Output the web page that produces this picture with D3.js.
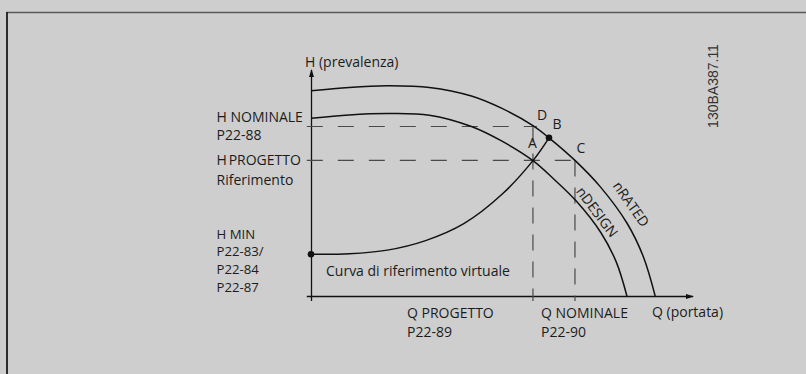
<!DOCTYPE html>
<html>
<head>
<meta charset="utf-8">
<script src="https://cdn.jsdelivr.net/npm/d3@7"></script>
<style>
  body { margin: 0; background: #cecece; }
  svg { display: block; }
  text { font-family: "Open Sans", sans-serif; font-size: 14px; fill: #1c1c1c; }
</style>
</head>
<body>
<div id="chart"></div>
<script>
// curve readings (Q = portata, H = prevalenza, both 0..100 of the axes)
const ratedQ = [0, 10, 20, 31, 42, 50, 58.1, 62.3, 69.1, 75.7, 82.7, 87, 90.1];
const ratedH = [90.8, 92.3, 93, 92.3, 88.5, 83, 75.4, 70, 60, 48.4, 32.3, 17.4, 0];

const designQ = [0, 10, 20, 31, 42, 50, 58.1, 63.4, 69.5, 75.9, 79.9, 82.7];
const designH = [78.6, 80.1, 80.7, 80, 75, 68.5, 59.9, 52, 41.9, 28, 15.1, 0];

const refQ = [0, 10, 20, 30, 40, 50, 58.1, 62.3];
const refH = [18.5, 18.7, 20.3, 24.5, 32, 45, 59.9, 70];

// operating points
const hNominale = 75, hProgetto = 60;
const qProgetto = 58.1, qNominale = 69.1;

// left side label blocks: lines + first baseline + line step
const leftBlocks = [
  { lines: ["H NOMINALE", "P22-88"], y0: 121.7, step: 18.3, size: 14 },
  { lines: ["H PROGETTO", "Riferimento"], y0: 165, step: 20, size: 14 },
  { lines: ["H MIN", "P22-83/", "P22-84", "P22-87"], y0: 238.5, step: 17.8, size: 13.2 }
];
const bottomBlocks = [
  { lines: ["Q PROGETTO", "P22-89"], x0: 407, y0: 318.3, step: 18.7, size: 14 },
  { lines: ["Q NOMINALE", "P22-90"], x0: 541, y0: 318.3, step: 18.7, size: 14 }
];

const width = 806, height = 374;

const svg = d3.select("#chart").append("svg")
  .attr("width", width)
  .attr("height", height);

// frame
svg.append("path")
  .attr("d", `M7,${height}V12.5H${width}`)
  .attr("fill", "none")
  .attr("stroke", "#5a5a5a")
  .attr("stroke-width", 1.6);
svg.append("line")
  .attr("x1", 7).attr("x2", 7).attr("y1", 12).attr("y2", height)
  .attr("stroke", "#111").attr("stroke-width", 1.4);

const x = d3.scaleLinear().domain([0, 100]).range([311, 693]);
const y = d3.scaleLinear().domain([0, 100]).range([296, 70]);

// arrow head
svg.append("defs").append("marker")
  .attr("id", "arrow")
  .attr("viewBox", "0 -3 8 6")
  .attr("refX", 7).attr("refY", 0)
  .attr("markerWidth", 8).attr("markerHeight", 6)
  .attr("markerUnits", "userSpaceOnUse")
  .attr("orient", "auto")
  .append("path")
  .attr("d", "M0,-2.5L8,0L0,2.5Z")
  .attr("fill", "#111");

// axes (no ticks, just the lines)
const xAxis = svg.append("g")
  .attr("transform", `translate(0,${y(0)})`)
  .call(d3.axisBottom(x).tickValues([]).tickSizeOuter(0));
const yAxis = svg.append("g")
  .attr("transform", `translate(${x(0)},0)`)
  .call(d3.axisLeft(y).tickValues([]).tickSizeOuter(0));

xAxis.select(".domain").attr("stroke", "#111").attr("stroke-width", 1.3)
  .attr("d", `M${x(-1.1)},0.5H${x(100)}`).attr("marker-end", "url(#arrow)");
yAxis.select(".domain").attr("stroke", "#111").attr("stroke-width", 1.3)
  .attr("d", `M0.5,${y(-2.2)}V${y(100)}`).attr("marker-end", "url(#arrow)");

// dashed guides
const dash = svg.append("g")
  .attr("stroke", "#4a4a4a")
  .attr("stroke-width", 1.2)
  .attr("fill", "none");

dash.append("line")
  .attr("x1", x(-1.1)).attr("x2", x(qProgetto) + 4)
  .attr("y1", y(hNominale)).attr("y2", y(hNominale))
  .attr("stroke-dasharray", "16,15");
dash.append("line")
  .attr("x1", x(-1.1)).attr("x2", x(qNominale))
  .attr("y1", y(hProgetto)).attr("y2", y(hProgetto))
  .attr("stroke-dasharray", "16,15");
dash.append("line")
  .attr("x1", x(qProgetto)).attr("x2", x(qProgetto))
  .attr("y1", y(hNominale)).attr("y2", y(-2.2))
  .attr("stroke-dasharray", "16,11");
dash.append("line")
  .attr("x1", x(qNominale)).attr("x2", x(qNominale))
  .attr("y1", y(hProgetto)).attr("y2", y(-2.2))
  .attr("stroke-dasharray", "16,11");

// curves
const line = d3.line()
  .x(d => x(d[0]))
  .y(d => y(d[1]))
  .curve(d3.curveCatmullRom.alpha(0.5));

const curves = [
  d3.zip(ratedQ, ratedH),
  d3.zip(designQ, designH),
  d3.zip(refQ, refH)
];

svg.append("g").selectAll("path")
  .data(curves)
  .join("path")
  .attr("d", line)
  .attr("fill", "none")
  .attr("stroke", "#111")
  .attr("stroke-width", 1.5);

// dots: H MIN start and point B
const dots = [[refQ[0], refH[0]], [refQ[refQ.length - 1], refH[refH.length - 1]]];
svg.append("g").selectAll("circle")
  .data(dots)
  .join("circle")
  .attr("cx", d => x(d[0]))
  .attr("cy", d => y(d[1]))
  .attr("r", 3.3)
  .attr("fill", "#111");

// multi-line label blocks
function block(b, x0) {
  const t = svg.append("text")
    .attr("x", x0).attr("y", b.y0)
    .style("font-size", b.size + "px");
  t.selectAll("tspan")
    .data(b.lines)
    .join("tspan")
    .attr("x", x0)
    .attr("y", (d, i) => b.y0 + i * b.step)
    .attr("word-spacing", d => d === "H PROGETTO" ? "-1.8px" : null)
    .text(d => d);
}
leftBlocks.forEach(b => block(b, 216.5));
bottomBlocks.forEach(b => block(b, b.x0));

// other labels
const lbl = (t, px, py) => svg.append("text").attr("x", px).attr("y", py).text(t);
lbl("H (prevalenza)", 305, 66.5);
lbl("Curva di riferimento virtuale", 326, 276);
lbl("Q (portata)", 652, 316.5);
lbl("D", 537, 120);
lbl("B", 552.5, 129.3);
lbl("A", 528, 148.3);
lbl("C", 576.5, 153.3);

svg.append("text")
  .attr("transform", "translate(631,204) rotate(55)")
  .attr("text-anchor", "middle")
  .attr("dy", "0.35em")
  .text("nRATED");
svg.append("text")
  .attr("transform", "translate(597,212) rotate(53)")
  .attr("text-anchor", "middle")
  .attr("dy", "0.35em")
  .text("nDESIGN");

// drawing code
svg.append("text")
  .attr("transform", "translate(713,86) rotate(-90)")
  .attr("text-anchor", "middle")
  .attr("dy", "0.35em")
  .style("font-family", "'Liberation Sans', Arial, sans-serif")
  .style("font-size", "14px")
  .style("fill", "#333")
  .text("130BA387.11");
</script>
</body>
</html>
